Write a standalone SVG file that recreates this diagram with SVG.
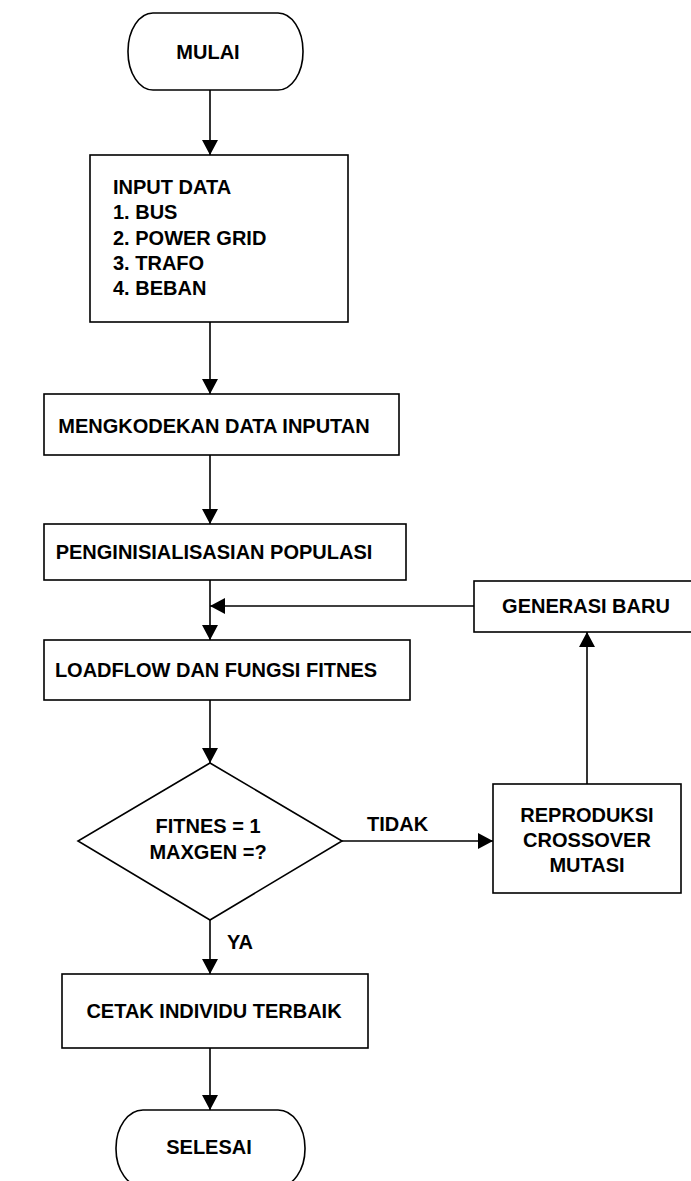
<svg xmlns="http://www.w3.org/2000/svg" width="691" height="1181" viewBox="0 0 691 1181">
  <style>
    .shape { fill: #ffffff; stroke: #000000; stroke-width: 1.6; }
    .link { fill: none; stroke: #000000; stroke-width: 1.6; }
    .lbl { font-family: "Liberation Sans", Arial, sans-serif; font-weight: bold; font-size: 20px; fill: #000000; }
    .mid { text-anchor: middle; }
  </style>
  <defs>
    <marker id="head" viewBox="0 0 15 16" refX="15" refY="8" markerWidth="15" markerHeight="16" orient="auto" markerUnits="userSpaceOnUse">
      <path d="M0,0 L15,8 L0,16 z" fill="#000000"/>
    </marker>
  </defs>
  <rect width="691" height="1181" fill="#ffffff"/>

  <!-- connectors -->
  <g id="connectors">
    <line class="link" x1="210" y1="90" x2="210" y2="155" marker-end="url(#head)"/>
    <line class="link" x1="210" y1="322" x2="210" y2="394" marker-end="url(#head)"/>
    <line class="link" x1="210" y1="455" x2="210" y2="524" marker-end="url(#head)"/>
    <line class="link" x1="210" y1="580" x2="210" y2="640" marker-end="url(#head)"/>
    <line class="link" x1="474" y1="606" x2="210" y2="606" marker-end="url(#head)"/>
    <line class="link" x1="210" y1="700" x2="210" y2="763" marker-end="url(#head)"/>
    <line class="link" x1="342" y1="841" x2="493" y2="841" marker-end="url(#head)"/>
    <line class="link" x1="587" y1="784" x2="587" y2="632" marker-end="url(#head)"/>
    <line class="link" x1="210" y1="920" x2="210" y2="974" marker-end="url(#head)"/>
    <line class="link" x1="210" y1="1048" x2="210" y2="1110" marker-end="url(#head)"/>
    <text class="lbl" x="367" y="831">TIDAK</text>
    <text class="lbl" x="227" y="949">YA</text>
  </g>

  <g id="mulai">
    <rect class="shape" x="128" y="13" width="175" height="77" rx="25" ry="38"/>
    <text class="lbl mid" x="208" y="59">MULAI</text>
  </g>

  <g id="input-data">
    <rect class="shape" x="90" y="155" width="258" height="167"/>
    <text class="lbl" x="113" y="194">INPUT DATA</text>
    <text class="lbl" x="113" y="219">1. BUS</text>
    <text class="lbl" x="113" y="245">2. POWER GRID</text>
    <text class="lbl" x="113" y="270">3. TRAFO</text>
    <text class="lbl" x="113" y="295">4. BEBAN</text>
  </g>

  <g id="encode">
    <rect class="shape" x="44" y="394" width="355" height="61"/>
    <text class="lbl mid" x="214" y="433">MENGKODEKAN DATA INPUTAN</text>
  </g>

  <g id="init-population">
    <rect class="shape" x="44" y="524" width="362" height="56"/>
    <text class="lbl mid" x="214" y="559">PENGINISIALISASIAN POPULASI</text>
  </g>

  <g id="loadflow">
    <rect class="shape" x="44" y="640" width="366" height="60"/>
    <text class="lbl mid" x="216" y="677">LOADFLOW DAN FUNGSI FITNES</text>
  </g>

  <g id="decision">
    <polygon class="shape" points="210,763 342,841 210,920 78,841"/>
    <text class="lbl mid" x="208" y="833">FITNES = 1</text>
    <text class="lbl mid" x="208" y="859">MAXGEN =?</text>
  </g>

  <g id="reproduction">
    <rect class="shape" x="493" y="784" width="188" height="109"/>
    <text class="lbl mid" x="587" y="822">REPRODUKSI</text>
    <text class="lbl mid" x="587" y="847">CROSSOVER</text>
    <text class="lbl mid" x="587" y="872">MUTASI</text>
  </g>

  <g id="new-generation">
    <rect class="shape" x="474" y="581" width="230" height="51"/>
    <text class="lbl mid" x="586" y="613">GENERASI BARU</text>
  </g>

  <g id="print-best">
    <rect class="shape" x="62" y="974" width="306" height="74"/>
    <text class="lbl mid" x="214" y="1018">CETAK INDIVIDU TERBAIK</text>
  </g>

  <g id="selesai">
    <rect class="shape" x="116" y="1110" width="189" height="77" rx="27" ry="38"/>
    <text class="lbl mid" x="209" y="1154">SELESAI</text>
  </g>
</svg>
